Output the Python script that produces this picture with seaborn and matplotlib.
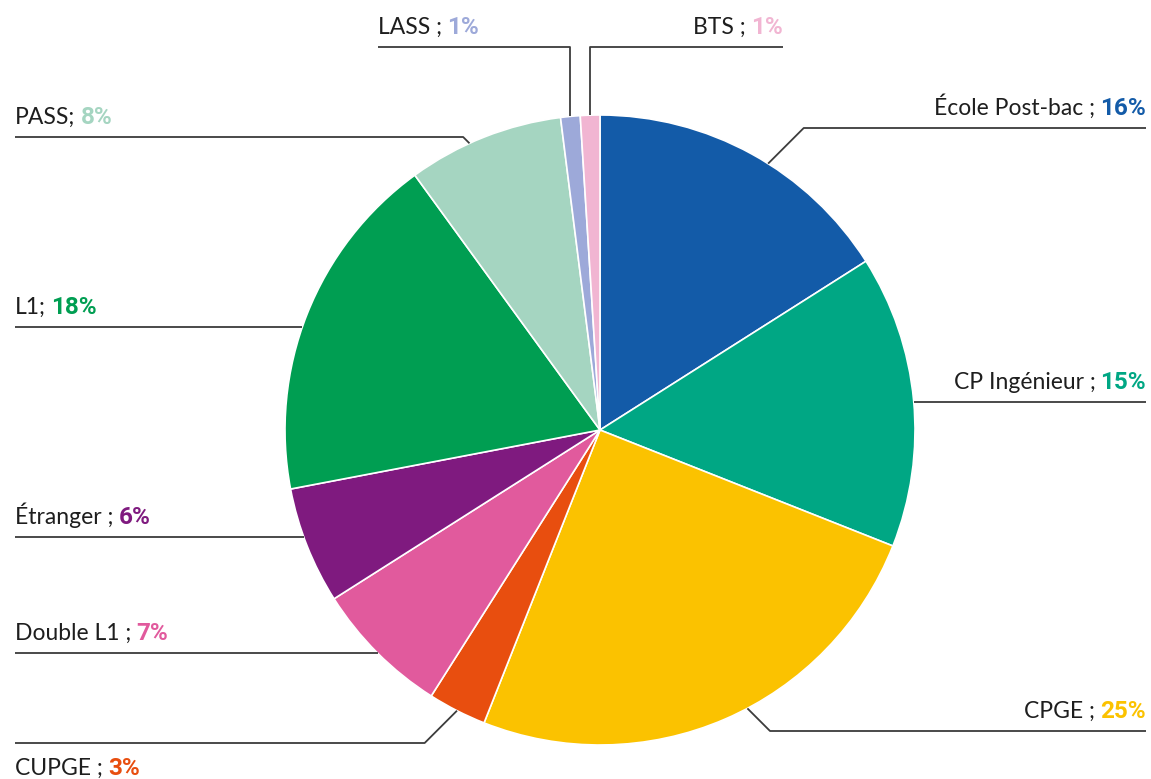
import numpy as np
import seaborn as sns
import matplotlib
matplotlib.use("Agg")
import matplotlib.pyplot as plt

categories = ["École Post-bac", "CP Ingénieur", "CPGE", "CUPGE", "Double L1",
              "Étranger", "L1", "PASS", "LASS", "BTS"]
shares = [16, 15, 25, 3, 7, 6, 18, 8, 1, 1]
colors = ["#135BA8", "#00A784", "#FBC200", "#E84E0F", "#E15A9D",
          "#7F1A7F", "#009E52", "#A5D5C1", "#9DA9D9", "#F1B5D2"]
separators = [" ;", " ;", " ;", " ;", " ;", " ;", ";", ";", " ;", " ;"]

# label layout (pixels of the 1151x779 canvas)
leader = ["diag", "flat", "diag", "diag", "flat", "flat", "flat", "diag", "vert", "vert"]
anchor_frac = [0.56, 0.5, 0.45, 0.5, 0.5, 0.5, 0.5, 0.4, 0.5, 0.5]
line_y = [128, 402, 731, 743, 653, 537, 327, 137, 47, 47]
line_end = [1146, 1146, 1146, 15, 15, 15, 15, 15, 378, 783]
text_below = [False, False, False, True, False, False, False, False, False, False]

W, H = 1151, 779
CX, CY, R = 600, 430, 315

sns.set_theme(style="white")
plt.rcParams["font.family"] = ["Lato", "DejaVu Sans"]
pct_family = ["Roboto", "DejaVu Sans"]

fig = plt.figure(figsize=(W / 100, H / 100), dpi=100)
ax = fig.add_axes([0, 0, 1, 1])
ax.pie(shares, colors=colors, startangle=90, counterclock=False, radius=1,
       wedgeprops=dict(edgecolor="white", linewidth=1.2))
ax.set_xlim((0 - CX) / R, (W - CX) / R)
ax.set_ylim((CY - H) / R, CY / R)
ax.set_aspect("equal")
ax.axis("off")


def to_data(px, py):
    return (px - CX) / R, (CY - py) / R


renderer = fig.canvas.get_renderer()
inv = ax.transData.inverted()
line_col = "#3c3c3c"
txt_col = "#1e1e1e"
fs = 16.5
fs_pct = 17.5

cum = np.cumsum([0] + shares[:-1])
for i, name in enumerate(categories):
    ang = np.deg2rad(90 - 360 * (cum[i] + shares[i] * anchor_frac[i]) / 100)
    ex, ey = np.cos(ang), np.sin(ang)
    ly = to_data(0, line_y[i])[1]
    lx_end = to_data(line_end[i], 0)[0]
    right = lx_end > ex
    if leader[i] == "diag":
        dx = abs(ly - ey) * (1 if right else -1)
        xs = [ex, ex + dx, lx_end]
        ys = [ey, ly, ly]
    elif leader[i] == "vert":
        xs = [ex, ex, lx_end]
        ys = [ey, ly, ly]
    else:
        cx = np.sqrt(max(1 - ly ** 2, 0)) * (1 if right else -1)
        xs = [cx, lx_end]
        ys = [ly, ly]
    ax.plot(xs, ys, color=line_col, lw=1.3, solid_capstyle="butt")

    # text baseline
    if text_below[i]:
        ty = ly - 32 / R
    else:
        ty = ly + 13 / R
    pct = f"{shares[i]}%"
    gap = 5 / R
    if right:
        t2 = ax.text(lx_end, ty, pct, ha="right", va="baseline", fontsize=fs_pct,
                     family=pct_family, fontweight="bold", color=colors[i])
        bb = t2.get_window_extent(renderer).transformed(inv)
        ax.text(bb.x0 - gap, ty, name + separators[i], ha="right", va="baseline",
                fontsize=fs, fontweight="normal", color=txt_col)
    else:
        t1 = ax.text(lx_end, ty, name + separators[i], ha="left", va="baseline",
                     fontsize=fs, fontweight="normal", color=txt_col)
        bb = t1.get_window_extent(renderer).transformed(inv)
        ax.text(bb.x1 + gap, ty, pct, ha="left", va="baseline", fontsize=fs_pct,
                family=pct_family, fontweight="bold", color=colors[i])

fig.savefig("out.png", dpi=100)
